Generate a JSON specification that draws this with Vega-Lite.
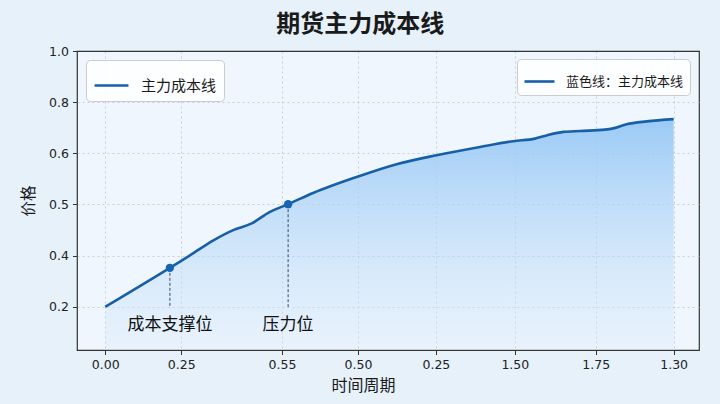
{
  "$schema": "https://vega.github.io/schema/vega-lite/v6.json",
  "width": 622,
  "height": 299,
  "autosize": {"type": "none"},
  "padding": {"left": 77, "top": 51, "right": 21, "bottom": 54},
  "background": "#e6f1fa",
  "config": {
    "view": {"fill": "#eff6fd", "stroke": "#333333", "strokeWidth": 1.2},
    "font": "DejaVu Sans"
  },
  "title": {
    "text": "期货主力成本线",
    "font": "Noto Sans CJK SC",
    "fontSize": 24,
    "fontWeight": "bold",
    "color": "#1a1a1a",
    "anchor": "middle",
    "frame": "bounds",
    "offset": 8
  },
  "datasets": {
    "curve": [
      {"t": 0.0, "v": 0.2, "series": "主力成本线", "note": "蓝色线：主力成本线"},
      {"t": 0.199, "v": 0.322, "series": "主力成本线", "note": "蓝色线：主力成本线"},
      {"t": 0.261, "v": 0.361, "series": "主力成本线", "note": "蓝色线：主力成本线"},
      {"t": 0.333, "v": 0.408, "series": "主力成本线", "note": "蓝色线：主力成本线"},
      {"t": 0.394, "v": 0.44, "series": "主力成本线", "note": "蓝色线：主力成本线"},
      {"t": 0.451, "v": 0.461, "series": "主力成本线", "note": "蓝色线：主力成本线"},
      {"t": 0.507, "v": 0.497, "series": "主力成本线", "note": "蓝色线：主力成本线"},
      {"t": 0.563, "v": 0.521, "series": "主力成本线", "note": "蓝色线：主力成本线"},
      {"t": 0.64, "v": 0.556, "series": "主力成本线", "note": "蓝色线：主力成本线"},
      {"t": 0.774, "v": 0.606, "series": "主力成本线", "note": "蓝色线：主力成本线"},
      {"t": 0.897, "v": 0.646, "series": "主力成本线", "note": "蓝色线：主力成本线"},
      {"t": 1.02, "v": 0.674, "series": "主力成本线", "note": "蓝色线：主力成本线"},
      {"t": 1.154, "v": 0.7, "series": "主力成本线", "note": "蓝色线：主力成本线"},
      {"t": 1.256, "v": 0.718, "series": "主力成本线", "note": "蓝色线：主力成本线"},
      {"t": 1.323, "v": 0.726, "series": "主力成本线", "note": "蓝色线：主力成本线"},
      {"t": 1.359, "v": 0.736, "series": "主力成本线", "note": "蓝色线：主力成本线"},
      {"t": 1.41, "v": 0.747, "series": "主力成本线", "note": "蓝色线：主力成本线"},
      {"t": 1.462, "v": 0.75, "series": "主力成本线", "note": "蓝色线：主力成本线"},
      {"t": 1.538, "v": 0.754, "series": "主力成本线", "note": "蓝色线：主力成本线"},
      {"t": 1.564, "v": 0.758, "series": "主力成本线", "note": "蓝色线：主力成本线"},
      {"t": 1.605, "v": 0.771, "series": "主力成本线", "note": "蓝色线：主力成本线"},
      {"t": 1.667, "v": 0.78, "series": "主力成本线", "note": "蓝色线：主力成本线"},
      {"t": 1.75, "v": 0.787, "series": "主力成本线", "note": "蓝色线：主力成本线"}
    ],
    "levels": [
      {"t": 0.199, "v": 0.322, "label": "成本支撑位"},
      {"t": 0.563, "v": 0.521, "label": "压力位"}
    ]
  },
  "layer": [
    {
      "data": {"name": "curve"},
      "mark": {
        "type": "area",
        "interpolate": "monotone",
        "color": {
          "gradient": "linear",
          "x1": 0, "y1": 0, "x2": 0, "y2": 1,
          "stops": [
            {"offset": 0, "color": "rgba(146,197,245,0.9)"},
            {"offset": 1, "color": "rgba(215,233,250,0.3)"}
          ]
        }
      },
      "encoding": {
        "x": {
          "field": "t",
          "type": "quantitative",
          "scale": {"domain": [-0.087, 1.828], "nice": false, "zero": false},
          "axis": {
            "title": "时间周期",
            "titleFont": "Noto Sans CJK SC",
            "titleFontSize": 16,
            "titleFontWeight": "normal",
            "titleColor": "#1a1a1a",
            "titlePadding": 6,
            "titleX": 286,
            "values": [0, 0.234, 0.544, 0.778, 1.018, 1.261, 1.51, 1.75],
            "labelExpr": "datum.value < 0.1 ? '0.00' : datum.value < 0.4 ? '0.25' : datum.value < 0.6 ? '0.55' : datum.value < 0.9 ? '0.50' : datum.value < 1.1 ? '0.25' : datum.value < 1.4 ? '1.50' : datum.value < 1.6 ? '1.75' : '1.30'",
            "labelFont": "DejaVu Sans",
            "labelFontSize": 12.5,
            "labelColor": "#222222",
            "labelPadding": 4,
            "tickSize": 4.5,
            "tickColor": "#333333",
            "domain": false,
            "grid": true,
            "gridDash": [2, 3],
            "gridColor": "#b9c9d8",
            "gridOpacity": 0.8
          }
        },
        "y": {
          "field": "v",
          "type": "quantitative",
          "scale": {"domain": [0.065, 1.0], "nice": false, "zero": false},
          "axis": {
            "title": "价格",
            "titleFont": "Noto Sans CJK SC",
            "titleFontSize": 15.5,
            "titleFontWeight": "normal",
            "titleColor": "#1a1a1a",
            "titlePadding": 12,
            "values": [0.2, 0.36, 0.52, 0.68, 0.84, 1.0],
            "labelExpr": "datum.value < 0.3 ? '0.2' : datum.value < 0.45 ? '0.4' : datum.value < 0.6 ? '0.5' : datum.value < 0.75 ? '0.6' : datum.value < 0.9 ? '0.8' : '1.0'",
            "labelFont": "DejaVu Sans",
            "labelFontSize": 12.5,
            "labelColor": "#222222",
            "labelPadding": 4,
            "tickSize": 4.5,
            "tickColor": "#333333",
            "domain": false,
            "grid": true,
            "gridDash": {"condition": {"test": "datum.value > 0.99", "value": []}, "value": [2, 3]},
            "gridColor": {"condition": {"test": "datum.value > 0.99", "value": "#333333"}, "value": "#b9c9d8"},
            "gridOpacity": {"condition": {"test": "datum.value > 0.99", "value": 1}, "value": 0.8},
            "gridWidth": {"condition": {"test": "datum.value > 0.99", "value": 1.2}, "value": 1}
          }
        },
        "y2": {"datum": 0.065}
      }
    },
    {
      "data": {"name": "curve"},
      "mark": {"type": "line", "interpolate": "monotone", "strokeWidth": 2.6},
      "encoding": {
        "x": {"field": "t", "type": "quantitative"},
        "y": {"field": "v", "type": "quantitative"},
        "stroke": {
          "field": "series",
          "type": "nominal",
          "scale": {"range": ["#1760a8"]},
          "legend": {
            "title": null,
            "orient": "none",
            "legendX": 9,
            "legendY": 9,
            "symbolType": "stroke",
            "symbolSize": 1150,
            "symbolStrokeWidth": 2.6,
            "labelFont": "Noto Sans CJK SC",
            "labelFontSize": 15,
            "labelColor": "#1a1a1a",
            "labelOffset": 11,
            "padding": 7,
            "fillColor": "rgba(255,255,255,0.85)",
            "strokeColor": "#cccccc",
            "cornerRadius": 4
          }
        }
      }
    },
    {
      "data": {"name": "curve"},
      "transform": [{"filter": "datum.t == 0"}],
      "mark": {"type": "line", "strokeWidth": 2.6},
      "encoding": {
        "x": {"field": "t", "type": "quantitative"},
        "y": {"field": "v", "type": "quantitative"},
        "color": {
          "field": "note",
          "type": "nominal",
          "scale": {"range": ["#1760a8"]},
          "legend": {
            "title": null,
            "orient": "none",
            "legendX": 440,
            "legendY": 8,
            "symbolType": "stroke",
            "symbolSize": 900,
            "symbolStrokeWidth": 2.6,
            "labelFont": "Noto Sans CJK SC",
            "labelFontSize": 13,
            "labelColor": "#1a1a1a",
            "labelOffset": 10,
            "padding": 6,
            "fillColor": "rgba(255,255,255,0.85)",
            "strokeColor": "#cccccc",
            "cornerRadius": 4
          }
        }
      }
    },
    {
      "data": {"name": "levels"},
      "mark": {"type": "rule", "strokeDash": [3, 2], "color": "#2b4d70", "strokeWidth": 1},
      "encoding": {
        "x": {"field": "t", "type": "quantitative"},
        "y": {"field": "v", "type": "quantitative"},
        "y2": {"datum": 0.196}
      }
    },
    {
      "data": {"name": "levels"},
      "mark": {"type": "point", "filled": true, "size": 70, "color": "#1565b0", "opacity": 1},
      "encoding": {
        "x": {"field": "t", "type": "quantitative"},
        "y": {"field": "v", "type": "quantitative"}
      }
    },
    {
      "data": {"name": "levels"},
      "mark": {
        "type": "text",
        "font": "Noto Sans CJK SC",
        "fontSize": 17,
        "color": "#111111",
        "baseline": "middle",
        "align": "center"
      },
      "encoding": {
        "x": {"field": "t", "type": "quantitative"},
        "y": {"datum": 0.143},
        "text": {"field": "label"}
      }
    }
  ]
}
